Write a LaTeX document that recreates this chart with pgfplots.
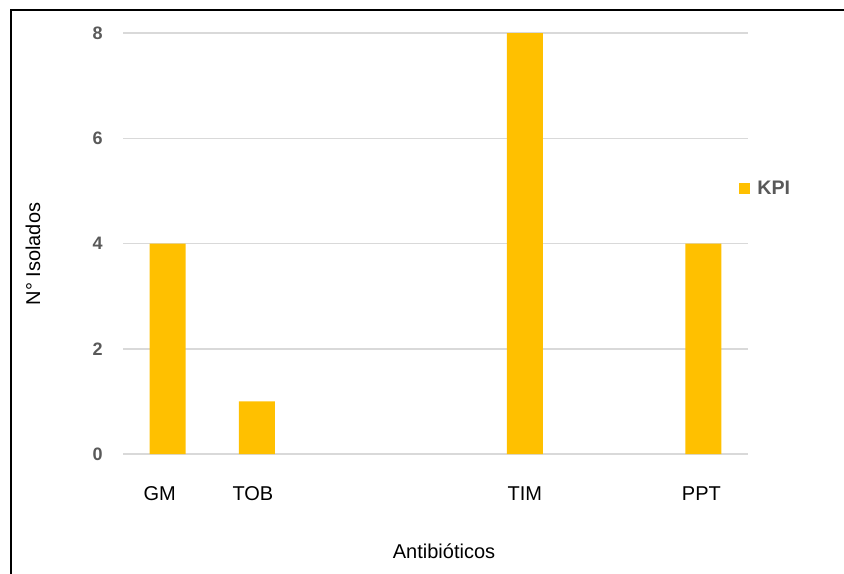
\documentclass[border=0pt]{standalone}
\usepackage{fontspec}
\setmainfont{Liberation Sans}
\usepackage{pgfplots}
\pgfplotsset{compat=1.18}

\definecolor{kpigold}{HTML}{FFC000}
\definecolor{gridgray}{HTML}{D9D9D9}
\definecolor{ticktext}{HTML}{595959}

\begin{document}
\begin{tikzpicture}
\begin{axis}[
  name=ax,
  at={(0,0)}, anchor=south west,
  scale only axis,
  width=312.5pt, height=210.5pt,
  xmin=-0.5, xmax=6.5,
  ymin=0, ymax=8,
  ybar, bar width=18pt,
  xtick={0,1,2,3,4,5,6},
  xticklabels={GM\kern8pt,TOB\kern4pt,,,TIM,,PPT\kern2pt},
  ytick={0,2,4,6,8},
  ymajorgrids,
  grid style={gridgray, line width=0.75pt},
  axis line style={draw=none},
  major tick length=0pt,
  tick style={draw=none},
  /pgf/number format/assume math mode=true,
  xticklabel style={font=\fontsize{10}{12}\selectfont, text=black, anchor=north, inner sep=0pt, yshift=-16pt},
  yticklabel style={font=\fontsize{9}{10}\selectfont\bfseries, text=ticktext, anchor=east, inner sep=0pt, xshift=-10pt},
  xlabel={Antibióticos},
  ylabel={N° Isolados},
  every axis x label/.style={at={(axis description cs:0.5136,0)}, anchor=center, yshift=-48.5pt, font=\fontsize{10}{12}\selectfont},
  every axis y label/.style={at={(axis description cs:0,0.475)}, anchor=center, xshift=-45pt, rotate=90, font=\fontsize{10}{12}\selectfont},
  legend style={at={(axis description cs:1,0.630)}, anchor=west, xshift=-4.5pt,
    draw=none, fill=none, inner sep=0pt,
    nodes={inner sep=0pt, font=\fontsize{9.8}{12}\selectfont\bfseries, text=ticktext}},
  legend image code/.code={\fill[kpigold] (0pt,-2.75pt) rectangle (5.5pt,2.75pt); \path (9pt,0pt);},
]
\addplot[fill=kpigold, draw=none] coordinates {(0,4) (1,1) (4,8) (6,4)};
\addlegendentry{KPI}
\end{axis}
% outer frame, running off the page on the right and bottom
\draw[line width=1pt, black] (-56pt,-70pt) -- (-56pt,222pt) -- (380pt,222pt);
\pgfresetboundingbox
\path[use as bounding box] (-61.5pt,-59.5pt) rectangle (360.5pt,227pt);
\end{tikzpicture}
\end{document}
